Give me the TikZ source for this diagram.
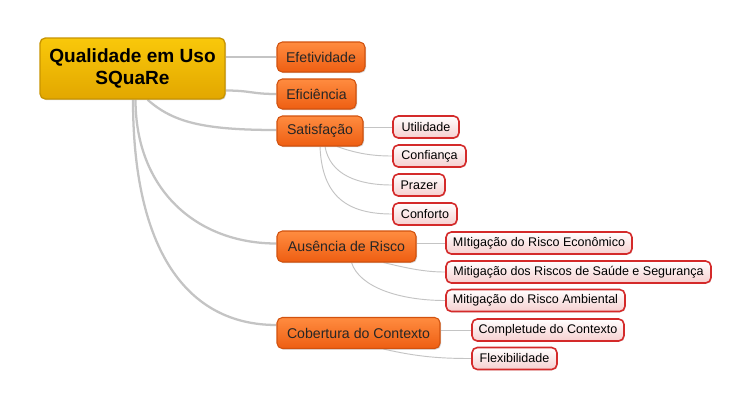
\documentclass[tikz,border=0pt]{standalone}
\usepackage{fontspec}
\setmainfont{Liberation Sans}
\usetikzlibrary{shadows,backgrounds}
\definecolor{rootTop}{HTML}{F9C80A}
\definecolor{rootBot}{HTML}{E2A700}
\definecolor{rootBd}{HTML}{C89400}
\definecolor{orTop}{HTML}{FF8C40}
\definecolor{orBot}{HTML}{EE5E12}
\definecolor{orBd}{HTML}{D2520E}
\definecolor{lfTop}{HTML}{FFFFFF}
\definecolor{lfBot}{HTML}{F6CFCF}
\definecolor{lfBd}{HTML}{D42A2A}
\definecolor{conn}{HTML}{C4C4C4}
\tikzset{
  box/.style 2 args={minimum width=#1*0.75pt, minimum height=#2*0.75pt, inner sep=0pt},
  rootnode/.style={draw=rootBd, line width=1pt, rounded corners=4pt, top color=rootTop, bottom color=rootBot,
    font=\fontsize{14.3}{17}\selectfont\bfseries, align=center,
    drop shadow={shadow xshift=0.8pt, shadow yshift=-0.8pt, fill=black!35, opacity=0.5}},
  mainnode/.style={draw=orBd, line width=0.8pt, rounded corners=4pt, top color=orTop, bottom color=orBot,
    font=\fontsize{10.6}{12}\selectfont, text=black!85,
    drop shadow={shadow xshift=0.8pt, shadow yshift=-0.8pt, fill=black!35, opacity=0.5}},
  leafnode/.style={draw=lfBd, line width=1.2pt, rounded corners=4pt, top color=lfTop, bottom color=lfBot,
    font=\fontsize{9.4}{11}\selectfont, text=black,
    drop shadow={shadow xshift=0.6pt, shadow yshift=-0.6pt, fill=black!25, opacity=0.4}},
  thickconn/.style={draw=conn, line width=1.7pt},
  thinconn/.style={draw=conn, line width=0.7pt},
}
\begin{document}
\begin{tikzpicture}[x=0.75pt, y=-0.75pt]
\useasboundingbox (0,0) rectangle (748,408);

\node[rootnode, box={185}{61}] (root) at (132.5,68.5) {Qualidade em Uso\\SQuaRe};

\node[mainnode, box={88}{30}] (efet) at (321,57) {Efetividade};
\node[mainnode, box={79}{30}] (efic) at (316.5,94) {Eficiência};
\node[mainnode, box={86}{30}] (sat) at (320,131) {Satisfação};
\node[mainnode, box={139}{31}] (aus) at (346.5,246.5) {Ausência de Risco};
\node[mainnode, box={163}{31}] (cob) at (358.5,333) {Cobertura do Contexto};

\node[leafnode, box={66}{22}] (util) at (426,127) {Utilidade};
\node[leafnode, box={73}{22}] (conf) at (429.5,156) {Confiança};
\node[leafnode, box={52}{22}] (praz) at (419,185) {Prazer};
\node[leafnode, box={64}{22}] (cfto) at (425,214) {Conforto};

\node[leafnode, box={186}{22}] (econ) at (539,243) {MItigação do Risco Econômico};
\node[leafnode, box={265}{22}] (saude) at (578.5,272) {Mitigação dos Riscos de Saúde e Segurança};
\node[leafnode, box={179}{22}] (amb) at (535.5,300.5) {Mitigação do Risco Ambiental};

\node[leafnode, box={152}{22}] (comp) at (548,330) {Completude do Contexto};
\node[leafnode, box={85}{22}] (flex) at (514.5,358.5) {Flexibilidade};

\begin{scope}[on background layer]
  \fill[white] (0,0) rectangle (748,408);
  % root connectors
  \draw[thickconn] ([shift={(0,-11.5)}]root.east) -- (efet.west);
  \draw[thickconn] ([shift={(0,22)}]root.east) .. controls +(25,0) and +(-25,0) .. (efic.west);
  \draw[thickconn] ([shift={(15,0)}]root.south) .. controls +(25,22) and +(-75,0) .. ([shift={(0,-1)}]sat.west);
  \draw[thickconn] ([shift={(3,0)}]root.south) .. controls +(0,90) and +(-80,0) .. ([shift={(0,-3)}]aus.west);
  \draw[thickconn] ([shift={(0.5,0)}]root.south) .. controls +(0,150) and +(-90,0) .. ([shift={(0,-8)}]cob.west);
  % Satisfação leaves
  \draw[thinconn] ([shift={(0,-4)}]sat.east) -- (util.west);
  \draw[thinconn] ([shift={(17,0)}]sat.south) .. controls +(20,7) and +(-20,0) .. (conf.west);
  \draw[thinconn] ([shift={(5,0)}]sat.south) .. controls +(5,28) and +(-35,0) .. (praz.west);
  \draw[thinconn] ([shift={(0,0)}]sat.south) .. controls +(2,50) and +(-45,0) .. (cfto.west);
  % Ausência leaves
  \draw[thinconn] ([shift={(0,-3.5)}]aus.east) -- (econ.west);
  \draw[thinconn] ([shift={(37,0)}]aus.south) .. controls +(25,6) and +(-20,0) .. (saude.west);
  \draw[thinconn] ([shift={(5,0)}]aus.south) .. controls +(8,25) and +(-45,0) .. (amb.west);
  % Cobertura leaves
  \draw[thinconn] ([shift={(0,-3)}]cob.east) -- (comp.west);
  \draw[thinconn] ([shift={(25,0)}]cob.south) .. controls +(35,8) and +(-30,0) .. (flex.west);
\end{scope}
\end{tikzpicture}
\end{document}
